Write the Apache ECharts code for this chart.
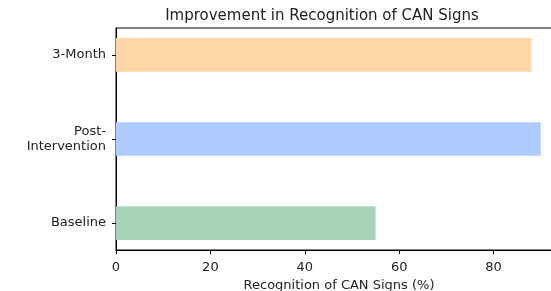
<!DOCTYPE html>
<html>
<head>
  <title>Improvement in Recognition of CAN Signs</title>
  <script src="https://cdn.jsdelivr.net/npm/echarts@6/dist/echarts.min.js"></script>
</head>
<body style="margin:0">
  <div id="main" style="width: 551px; height: 291px;"></div>

  <script>
    // data
    const stages = ['Baseline', 'Post-\nIntervention', '3-Month'];
    const recognition = [55, 90, 88];
    const xTicks = [0, 20, 40, 60, 80];

    const barColors = ['#a8d5ba', '#b0cbff', '#ffd6a5'];
    const font = 'DejaVu Sans';

    const chart = echarts.init(document.getElementById('main'));
    const option = {
      animation: false,
      title: {
        text: 'Improvement in Recognition of CAN Signs',
        left: 322, top: 1, padding: 0, textAlign: 'center',
        textStyle: { fontFamily: font, fontSize: 15, fontWeight: 'normal', color: '#222' }
      },
      grid: {
        left: 116, top: 28, width: 446, height: 222,
        outerBoundsMode: 'none', containLabel: false,
        show: true, borderColor: '#000', borderWidth: 1, backgroundColor: 'transparent'
      },
      xAxis: {
        type: 'value', min: 0, max: 94.5, interval: 20,
        name: 'Recognition of CAN Signs (%)', nameLocation: 'middle', nameGap: 23,
        nameMoveOverlap: false,
        nameTextStyle: { fontFamily: font, fontSize: 13, color: '#222' },
        splitLine: { show: false },
        axisLine: { show: true, onZero: false, lineStyle: { color: '#000', width: 1 } },
        axisTick: { show: true, length: 4, customValues: xTicks, lineStyle: { color: '#000' } },
        axisLabel: { fontFamily: font, fontSize: 13, color: '#222', margin: 5, customValues: xTicks }
      },
      yAxis: {
        type: 'value', min: -0.32, max: 2.32,
        splitLine: { show: false },
        axisLine: { show: true, onZero: false, lineStyle: { color: '#000', width: 1 } },
        axisTick: { show: true, length: 4, customValues: [0, 1, 2], lineStyle: { color: '#000' } },
        axisLabel: {
          fontFamily: font, fontSize: 13, color: '#222', margin: 10, align: 'right', lineHeight: 15,
          customValues: [0, 1, 2],
          formatter: v => stages[Math.round(v)] || ''
        }
      },
      series: [{
        type: 'custom',
        data: recognition.map((v, i) => [v, i]),
        encode: { x: 0, y: 1 },
        renderItem: (params, api) => {
          const p0 = api.coord([0, api.value(1)]);
          const p1 = api.coord([api.value(0), api.value(1)]);
          const h = api.size([0, 0.4])[1];
          return {
            type: 'rect',
            shape: { x: p0[0], y: p0[1] - h / 2, width: p1[0] - p0[0], height: h },
            style: { fill: barColors[params.dataIndex] }
          };
        }
      }]
    };
    chart.setOption(option);
  </script>
</body>
</html>
